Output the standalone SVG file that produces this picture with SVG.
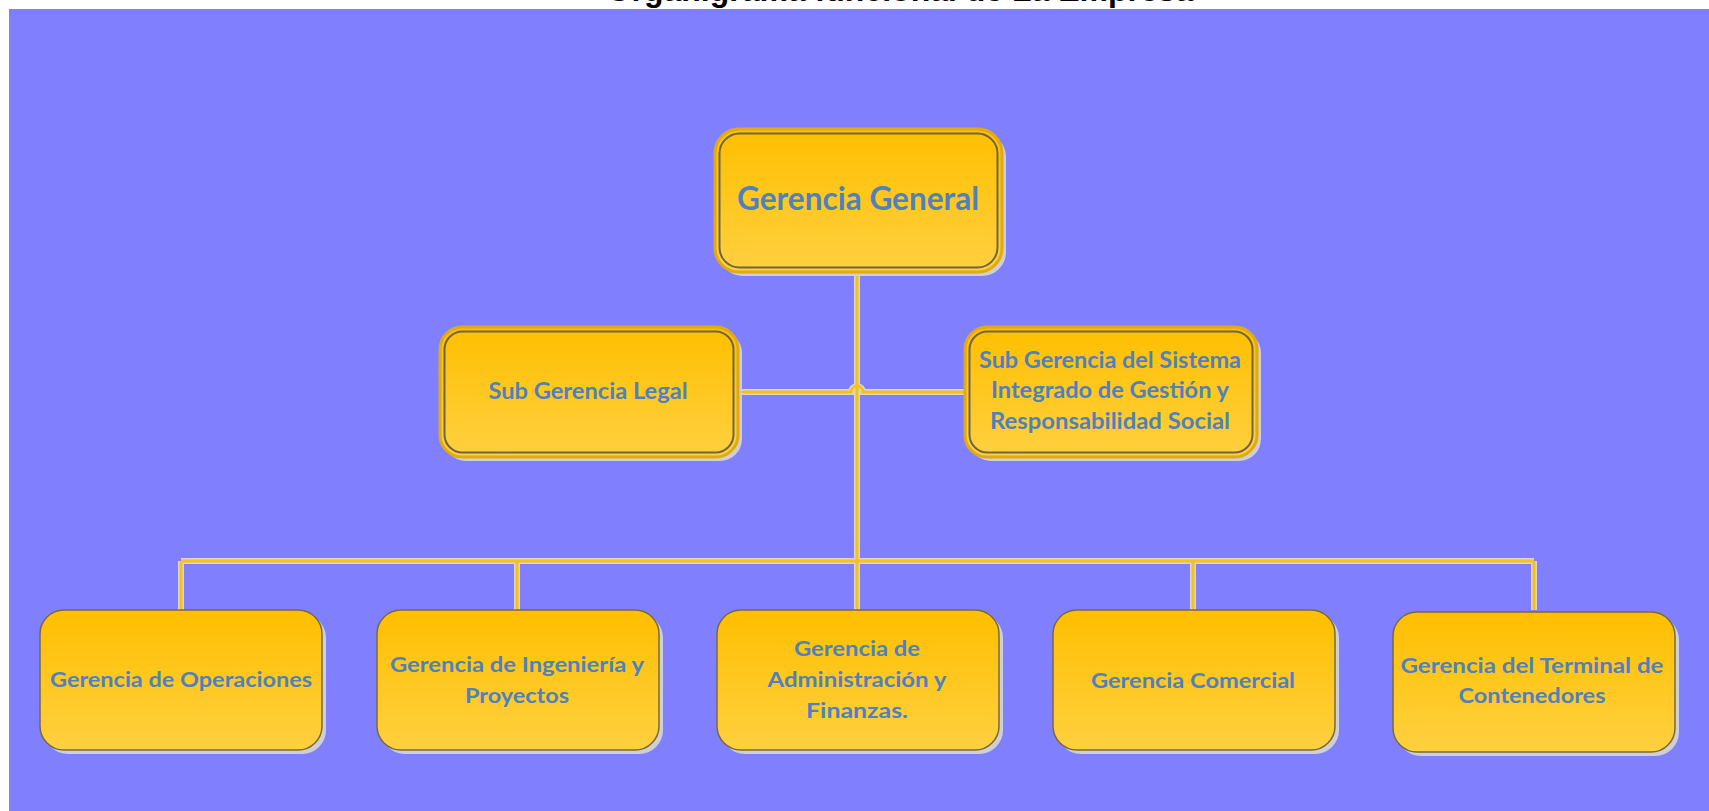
<svg xmlns="http://www.w3.org/2000/svg" width="1709" height="811" viewBox="0 0 1709 811">
<defs>
<linearGradient id="gold" x1="0" y1="0" x2="0" y2="1">
<stop offset="0" stop-color="#ffbf00"/>
<stop offset="1" stop-color="#ffd040"/>
</linearGradient>
<style>
.lbl{font-family:Lato,"Open Sans","Liberation Sans",sans-serif;font-weight:bold;fill:#4f81bd;text-anchor:middle}
.shadow{fill:#cfcfd6}
.box{fill:url(#gold);stroke:#7a6a3a;stroke-width:1.5}
.outer{fill:url(#gold);stroke:#e0aa10;stroke-width:3}
.inner{fill:none;stroke:#6e6446;stroke-width:2}
.halo{fill:none;stroke:#dcd6c6;stroke-width:6}
.wire{fill:none;stroke:#f5c21c;stroke-width:3}
</style>
</defs>
<rect x="0" y="0" width="1709" height="811" fill="#ffffff"/>
<rect x="9" y="9" width="1700" height="802" fill="#8080ff"/>
<text x="900" y="1" font-family="'Liberation Sans',Arial,sans-serif" font-weight="bold" font-size="32" fill="#000" text-anchor="middle">Organigrama funcional de La Empresa</text>

<g id="connectors">
<path class="halo" d="M857,272 V610 M181,561 H1534 M181,561 V610 M517,561 V610 M1193,561 V610 M1534,561 V610 M738,392 H851 A6,6 0 0 1 863,392 H965"/>
<path class="wire" d="M857,272 V610 M181,561 H1534 M181,561 V610 M517,561 V610 M1193,561 V610 M1534,561 V610 M738,392 H851 A6,6 0 0 1 863,392 H965"/>
</g>

<g id="gerencia-general">
<rect class="shadow" x="719" y="133" width="287" height="143" rx="24"/>
<rect class="outer" x="715" y="129" width="287" height="143" rx="24"/>
<rect class="inner" x="719.5" y="133.5" width="278" height="134" rx="20"/>
<text class="lbl" x="858" y="210" font-size="32" textLength="242" lengthAdjust="spacingAndGlyphs">Gerencia General</text>
</g>

<g id="sub-legal">
<rect class="shadow" x="444" y="331" width="298" height="130" rx="22"/>
<rect class="outer" x="440" y="327" width="298" height="130" rx="22"/>
<rect class="inner" x="444.5" y="331.5" width="289" height="121" rx="18"/>
<text class="lbl" x="588" y="399" font-size="22" textLength="199" lengthAdjust="spacingAndGlyphs">Sub Gerencia Legal</text>
</g>

<g id="sub-sistema">
<rect class="shadow" x="969" y="331" width="292" height="130" rx="22"/>
<rect class="outer" x="965" y="327" width="292" height="130" rx="22"/>
<rect class="inner" x="969.5" y="331.5" width="283" height="121" rx="18"/>
<text class="lbl" x="1110" y="368" font-size="22" textLength="262" lengthAdjust="spacingAndGlyphs">Sub Gerencia del Sistema</text>
<text class="lbl" x="1110" y="398" font-size="22" textLength="238" lengthAdjust="spacingAndGlyphs">Integrado de Gestión y</text>
<text class="lbl" x="1110" y="429" font-size="22" textLength="240" lengthAdjust="spacingAndGlyphs">Responsabilidad Social</text>
</g>

<g id="ger-operaciones">
<rect class="shadow" x="44" y="614" width="282" height="140" rx="24"/>
<rect class="box" x="40" y="610" width="282" height="140" rx="24"/>
<text class="lbl" x="181" y="687" font-size="21" textLength="262" lengthAdjust="spacingAndGlyphs">Gerencia de Operaciones</text>
</g>

<g id="ger-ingenieria">
<rect class="shadow" x="381" y="614" width="282" height="140" rx="24"/>
<rect class="box" x="377" y="610" width="282" height="140" rx="24"/>
<text class="lbl" x="517" y="672" font-size="21" textLength="254" lengthAdjust="spacingAndGlyphs">Gerencia de Ingeniería y</text>
<text class="lbl" x="517" y="703" font-size="21" textLength="104" lengthAdjust="spacingAndGlyphs">Proyectos</text>
</g>

<g id="ger-administracion">
<rect class="shadow" x="721" y="614" width="282" height="140" rx="24"/>
<rect class="box" x="717" y="610" width="282" height="140" rx="24"/>
<text class="lbl" x="857" y="656" font-size="21" textLength="126" lengthAdjust="spacingAndGlyphs">Gerencia de</text>
<text class="lbl" x="857" y="687" font-size="21" textLength="179" lengthAdjust="spacingAndGlyphs">Administración y</text>
<text class="lbl" x="857" y="718" font-size="21" textLength="102" lengthAdjust="spacingAndGlyphs">Finanzas.</text>
</g>

<g id="ger-comercial">
<rect class="shadow" x="1057" y="614" width="282" height="140" rx="24"/>
<rect class="box" x="1053" y="610" width="282" height="140" rx="24"/>
<text class="lbl" x="1193" y="688" font-size="21" textLength="204" lengthAdjust="spacingAndGlyphs">Gerencia Comercial</text>
</g>

<g id="ger-terminal">
<rect class="shadow" x="1397" y="616" width="282" height="140" rx="24"/>
<rect class="box" x="1393" y="612" width="282" height="140" rx="24"/>
<text class="lbl" x="1532" y="673" font-size="21" textLength="263" lengthAdjust="spacingAndGlyphs">Gerencia del Terminal de</text>
<text class="lbl" x="1532" y="703" font-size="21" textLength="147" lengthAdjust="spacingAndGlyphs">Contenedores</text>
</g>
</svg>
